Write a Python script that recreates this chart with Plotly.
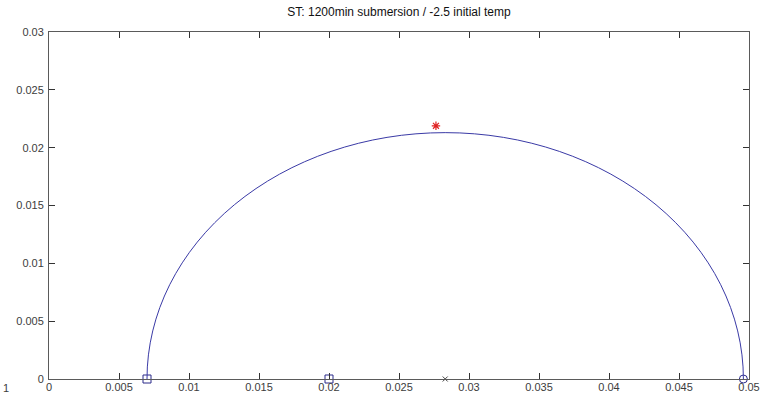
import plotly.graph_objects as go

# Mohr circle state: principal stresses and stress points
sigma_3 = 0.0070
sigma_1 = 0.0496
sigma_mid = 0.0200
center_x = 0.02830
peak_x = 0.02764
peak_y = 0.02189

x_ticks = [0, 0.005, 0.01, 0.015, 0.02, 0.025, 0.03, 0.035, 0.04, 0.045, 0.05]
x_tick_labels = ["0", "0.005", "0.01", "0.015", "0.02", "0.025", "0.03", "0.035", "0.04", "0.045", "0.05"]
y_ticks = [0, 0.005, 0.01, 0.015, 0.02, 0.025, 0.03]
y_tick_labels = ["0", "0.005", "0.01", "0.015", "0.02", "0.025", "0.03"]

title_text = "ST: 1200min submersion / -2.5 initial temp"

line_blue = "#3a3aa6"
axis_col = "#5a5a5a"
txt_col = "#3c3c3c"

fig = go.Figure()

radius = (sigma_1 - sigma_3) / 2
# upper half of the circle; lower half is clipped by the y range
fig.add_shape(type="circle", xref="x", yref="y",
              x0=sigma_3, x1=sigma_1, y0=-radius, y1=radius,
              line=dict(color=line_blue, width=1))

fig.add_trace(go.Scatter(x=[sigma_3, sigma_mid], y=[0, 0], mode="markers",
                         marker=dict(symbol="square-open", size=8, color="#2a2a8a",
                                     line=dict(width=1)),
                         cliponaxis=False, showlegend=False))
fig.add_trace(go.Scatter(x=[sigma_1], y=[0], mode="markers",
                         marker=dict(symbol="circle-open", size=8, color="#2a2a8a",
                                     line=dict(width=1)),
                         cliponaxis=False, showlegend=False))
fig.add_trace(go.Scatter(x=[center_x], y=[0], mode="markers",
                         marker=dict(symbol="x-thin-open", size=5, color="#444444",
                                     line=dict(width=1)),
                         cliponaxis=False, showlegend=False))
fig.add_trace(go.Scatter(x=[peak_x], y=[peak_y], mode="markers",
                         marker=dict(symbol="asterisk-open", size=7, color="#e02020",
                                     line=dict(width=1.2)),
                         cliponaxis=False, showlegend=False))

fig.add_annotation(text="1", xref="paper", yref="paper", x=-48/700, y=-9/347,
                   xanchor="left", yanchor="middle", showarrow=False,
                   font=dict(family="Liberation Sans, Arial", size=11, color=txt_col))

axis_common = dict(showline=True, linecolor=axis_col, linewidth=1, mirror="ticks",
                   ticks="inside", ticklen=6, tickcolor="#333333", tickwidth=1,
                   showgrid=False, zeroline=False, automargin=False,
                   tickfont=dict(family="Liberation Sans, Arial", size=11, color=txt_col))

fig.update_layout(
    width=778, height=399,
    margin=dict(l=49, r=29, t=32, b=20),
    paper_bgcolor="white", plot_bgcolor="white",
    title=dict(text=title_text, x=399/778, xanchor="center", yref="container",
               y=1 - 12/399, yanchor="middle",
               font=dict(family="Liberation Sans, Arial", size=12, color="#111111")),
    xaxis=dict(range=[0, 0.05], tickvals=x_ticks, ticktext=x_tick_labels, ticklabelstandoff=-2,
               **axis_common),
    yaxis=dict(range=[0, 0.03], tickvals=y_ticks, ticktext=y_tick_labels, ticklabelstandoff=2,
               **axis_common),
)

fig.write_html("out.html")
